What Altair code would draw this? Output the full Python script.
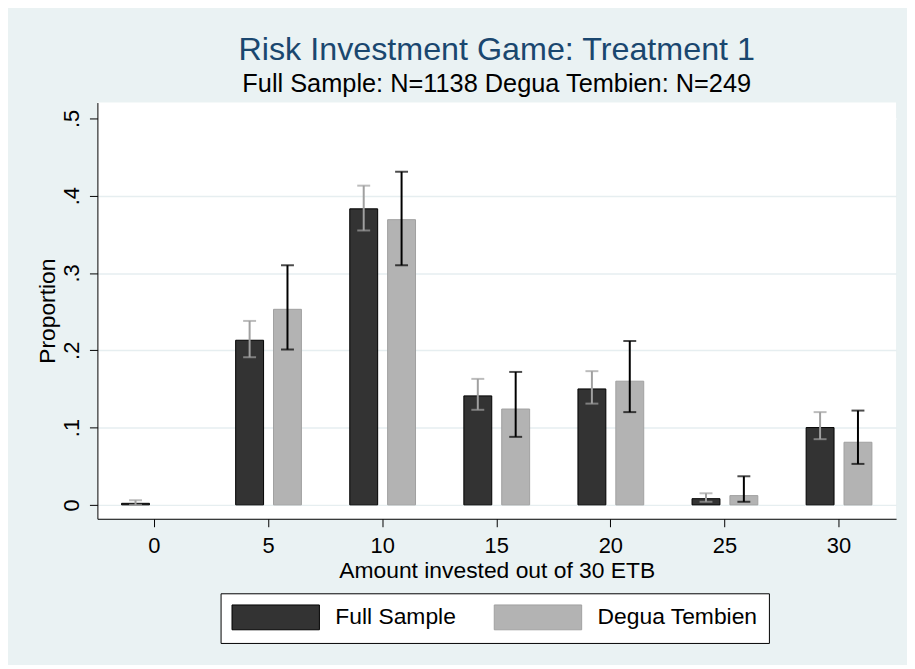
import altair as alt
import pandas as pd

amounts = [0, 5, 10, 15, 20, 25, 30]
groups = ["Full Sample", "Degua Tembien"]

full_prop = [0.002, 0.213, 0.383, 0.141, 0.150, 0.008, 0.100]
full_lo = [0.000, 0.191, 0.355, 0.123, 0.131, 0.004, 0.085]
full_hi = [0.006, 0.238, 0.413, 0.163, 0.173, 0.015, 0.120]

degua_prop = [0.000, 0.253, 0.369, 0.124, 0.160, 0.012, 0.081]
degua_lo = [0.000, 0.201, 0.310, 0.088, 0.120, 0.004, 0.053]
degua_hi = [0.000, 0.310, 0.431, 0.172, 0.212, 0.037, 0.122]

y_ticks = [0, 0.1, 0.2, 0.3, 0.4, 0.5]

rows = []
for g, p, lo, hi in [(groups[0], full_prop, full_lo, full_hi),
                     (groups[1], degua_prop, degua_lo, degua_hi)]:
    for a, v, l, h in zip(amounts, p, lo, hi):
        if v > 0:
            rows.append({"amount": a, "group": g, "prop": v, "lo": l, "hi": h})
df = pd.DataFrame(rows)

FONT = "Liberation Sans"
BG = "#EAF2F3"

x_enc = alt.X("amount:O", title="Amount invested out of 30 ETB",
              scale=alt.Scale(paddingInner=0, paddingOuter=0),
              axis=alt.Axis(labelAngle=0, tickSize=8, labelPadding=9,
                            titlePadding=3, domainColor="black", tickColor="black"))
xoff = alt.XOffset("group:N", sort=groups,
                   scale=alt.Scale(domain=groups, paddingInner=0.263, paddingOuter=0.638))

y_scale = alt.Scale(domain=[-0.018, 0.5205], nice=False, zero=False)

err_color = alt.condition("datum.group == 'Full Sample'", alt.value("#A0A0A0"), alt.value("#000000"))

base = alt.Chart(df)

bars = base.mark_bar(strokeWidth=1).encode(
    x=x_enc,
    xOffset=xoff,
    y=alt.Y("prop:Q", title="Proportion", scale=y_scale,
            axis=alt.Axis(values=y_ticks, tickSize=8, labelAngle=270,
                          labelAlign="center", labelBaseline="bottom", labelPadding=6,
                          labelExpr="datum.value == 0 ? '0' : replace(format(datum.value, '.1f'), '0.', '.')",
                          grid=True,
                          gridColor=alt.condition("datum.value >= 0.5", alt.value("white"), alt.value("#E6EEF0")),
                          gridWidth=1.5, domainColor="black", tickColor="black", titlePadding=1)),
    y2=alt.datum(0),
    color=alt.Color("group:N", sort=groups,
                    scale=alt.Scale(domain=groups, range=["#333333", "#B3B3B3"]),
                    legend=alt.Legend(title=None, orient="none", legendX=124, legendY=494,
                                      direction="horizontal",
                                      symbolType="M-3.52,-1L3.52,-1L3.52,1L-3.52,1Z",
                                      symbolSize=625, symbolStrokeWidth=1, symbolOffset=31.5,
                                      labelFontSize=23, labelFont=FONT, labelColor="black",
                                      labelOffset=47, labelLimit=400, columnPadding=36, padding=11,
                                      strokeColor="black", fillColor="white",
                                      symbolOpacity=1)),
    stroke=alt.Stroke("group:N", sort=groups,
                      scale=alt.Scale(domain=groups, range=["#000000", "#A0A0A0"]),
                      legend=None),
)

err = base.mark_rule(strokeWidth=2).encode(
    x=alt.X("amount:O"),
    xOffset=xoff,
    y=alt.Y("lo:Q"),
    y2="hi:Q",
    color=err_color,
)

cap_lo = base.mark_tick(size=13, thickness=2).encode(
    x=alt.X("amount:O"),
    xOffset=xoff,
    y=alt.Y("lo:Q"),
    color=err_color,
)

cap_hi = base.mark_tick(size=13, thickness=2).encode(
    x=alt.X("amount:O"),
    xOffset=xoff,
    y=alt.Y("hi:Q"),
    color=err_color,
)

chart = alt.layer(bars, err, cap_lo, cap_hi).properties(
    width=804, height=419,
    padding={"left": 90, "top": 93, "right": 11, "bottom": 145},
    autosize=alt.AutoSizeParams(type="none"),
    background=BG,
    title=alt.TitleParams(
        text="Risk Investment Game: Treatment 1",
        subtitle="Full Sample: N=1138 Degua Tembien: N=249",
        anchor="middle", font=FONT, fontSize=32.5, fontWeight="normal", color="#1A476F",
        subtitleFont=FONT, subtitleFontSize=25.5, subtitleColor="black",
        subtitlePadding=6, offset=5),
).configure_view(fill="white", stroke=None).configure_axis(
    labelFont=FONT, titleFont=FONT, labelFontSize=22, titleFontSize=23,
    labelColor="black", titleColor="black", titleFontWeight="normal",
)

chart.save("out.html", embed_options={"renderer": "svg", "actions": False})
